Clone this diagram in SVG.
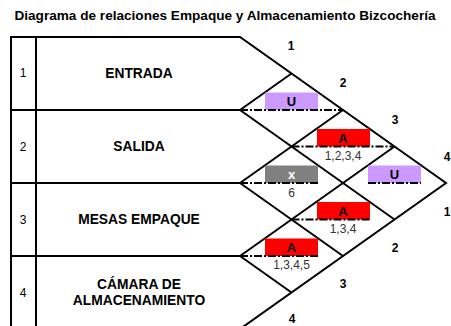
<svg xmlns="http://www.w3.org/2000/svg" width="451" height="326" viewBox="0 0 451 326">
<style>
.ln{fill:none;stroke:#000;stroke-width:2;stroke-linejoin:miter}
.dl{fill:none;stroke:#000;stroke-width:2;stroke-dasharray:8,2,2,2}
.t{font-family:"Liberation Sans",Arial,sans-serif;fill:#000}
.b{font-weight:bold}
.lab{font-size:13.8px;font-weight:bold;text-anchor:middle}
.num{font-size:12px;text-anchor:middle}
.rn{font-size:12px;font-weight:bold;text-anchor:middle}
.bx{font-size:13px;font-weight:bold;text-anchor:middle}
.sub{font-size:12px;text-anchor:middle;fill:#333}
.u{fill:#CC99FF}
.a{fill:#FF0000}
.x{fill:#808080}
</style>
<rect width="451" height="326" fill="#fff"/>
<text class="t b" x="225" y="20" font-size="13.6" text-anchor="middle">Diagrama de relaciones Empaque y Almacenamiento Bizcochería</text>
<g id="table">
<polyline class="ln" points="11,330 11,37 240,37 446,183 240,329"/>
<line class="ln" x1="36" y1="37" x2="36" y2="330"/>
<line class="ln" x1="11" y1="110" x2="240" y2="110"/>
<line class="ln" x1="11" y1="183" x2="240" y2="183"/>
<line class="ln" x1="11" y1="256" x2="240" y2="256"/>
</g>
<g id="row1"><text class="t num" x="23" y="77">1</text><text class="t lab" x="139" y="78">ENTRADA</text></g>
<g id="row2"><text class="t num" x="23" y="151">2</text><text class="t lab" x="139" y="151">SALIDA</text></g>
<g id="row3"><text class="t num" x="23" y="224">3</text><text class="t lab" x="139" y="224">MESAS EMPAQUE</text></g>
<g id="row4"><text class="t num" x="23" y="297">4</text><text class="t lab" x="139" y="289">CÁMARA DE</text><text class="t lab" x="139" y="305">ALMACENAMIENTO</text></g>
<g id="connectors">
<line class="ln" x1="240" y1="110" x2="394.5" y2="219.5"/>
<line class="ln" x1="240" y1="183" x2="343" y2="256"/>
<line class="ln" x1="240" y1="256" x2="291.5" y2="292.5"/>
<line class="ln" x1="240" y1="110" x2="291.5" y2="73.5"/>
<line class="ln" x1="240" y1="183" x2="343" y2="110"/>
<line class="ln" x1="240" y1="256" x2="394.5" y2="146.5"/>
</g>
<g id="c12"><rect class="u" x="265" y="92.5" width="53" height="17.5"/><line class="dl" x1="240" y1="110" x2="343" y2="110"/><text class="t bx" x="291.5" y="106">U</text></g>
<g id="c13"><rect class="a" x="317" y="129" width="53" height="17.5"/><line class="dl" x1="291.5" y1="146.5" x2="394.5" y2="146.5"/><text class="t bx" x="343" y="142.5">A</text><text class="t sub" x="343" y="160">1,2,3,4</text></g>
<g id="c14"><rect class="u" x="368" y="165.5" width="53" height="17.5"/><line class="dl" x1="368" y1="183" x2="421" y2="183"/><text class="t bx" x="394.5" y="179">U</text></g>
<g id="c23"><rect class="x" x="265" y="165.5" width="53" height="17.5"/><line class="dl" x1="240" y1="183" x2="318" y2="183"/><text class="t bx" x="291.5" y="179" style="fill:#fff">x</text><text class="t sub" x="291.5" y="197">6</text></g>
<g id="c24"><rect class="a" x="317" y="202" width="53" height="17.5"/><line class="dl" x1="291.5" y1="219.5" x2="370" y2="219.5"/><text class="t bx" x="343" y="215.5">A</text><text class="t sub" x="343" y="233">1,3,4</text></g>
<g id="c34"><rect class="a" x="265" y="238.5" width="53" height="17.5"/><line class="dl" x1="240" y1="256" x2="318" y2="256"/><text class="t bx" x="291.5" y="252">A</text><text class="t sub" x="291.5" y="269">1,3,4,5</text></g>
<g id="scale">
<text class="t rn" x="291" y="50">1</text>
<text class="t rn" x="343" y="87">2</text>
<text class="t rn" x="395" y="124">3</text>
<text class="t rn" x="447" y="161">4</text>
<text class="t rn" x="447" y="216">1</text>
<text class="t rn" x="395" y="252">2</text>
<text class="t rn" x="343" y="288">3</text>
<text class="t rn" x="292" y="323">4</text>
</g>
</svg>
